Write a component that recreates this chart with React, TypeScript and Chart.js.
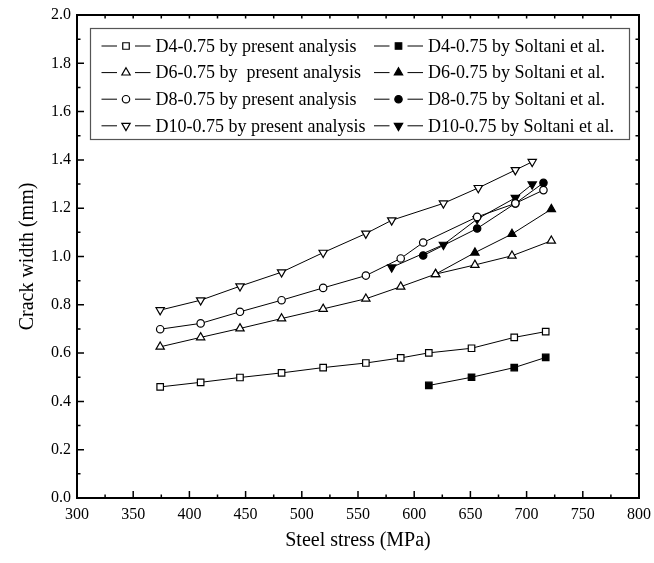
import React, { useEffect, useRef } from 'react';
import { Chart, registerables } from 'chart.js';
import { drawPoint } from 'chart.js/helpers';

Chart.register(...registerables);

// ---- data ----
const d4PresentX = [374, 410, 445, 482, 519, 557, 588, 613, 651, 689, 717];
const d4PresentY = [0.46, 0.479, 0.499, 0.518, 0.54, 0.559, 0.58, 0.601, 0.62, 0.665, 0.689];
const d4SoltaniX = [613, 651, 689, 717];
const d4SoltaniY = [0.466, 0.5, 0.54, 0.582];

const d6PresentX = [374, 410, 445, 482, 519, 557, 588, 619, 654, 687, 722];
const d6PresentY = [0.626, 0.665, 0.702, 0.743, 0.783, 0.825, 0.875, 0.927, 0.965, 1.003, 1.065];
const d6SoltaniX = [619, 654, 687, 722];
const d6SoltaniY = [0.927, 1.016, 1.093, 1.196];

const d8PresentX = [374, 410, 445, 482, 519, 557, 588, 608, 656, 690, 715];
const d8PresentY = [0.699, 0.723, 0.771, 0.819, 0.87, 0.921, 0.992, 1.058, 1.164, 1.22, 1.275];
const d8SoltaniX = [608, 656, 690, 715];
const d8SoltaniY = [1.004, 1.116, 1.22, 1.305];

const d10PresentX = [374, 410, 445, 482, 519, 557, 580, 626, 657, 690, 705];
const d10PresentY = [0.778, 0.819, 0.877, 0.935, 1.016, 1.095, 1.15, 1.22, 1.284, 1.358, 1.392];
const d10SoltaniX = [580, 626, 656, 690, 705];
const d10SoltaniY = [0.955, 1.049, 1.155, 1.243, 1.299];

const labels = [
  'D4-0.75 by present analysis',
  'D4-0.75 by Soltani et al.',
  'D6-0.75 by  present analysis',
  'D6-0.75 by Soltani et al.',
  'D8-0.75 by present analysis',
  'D8-0.75 by Soltani et al.',
  'D10-0.75 by present analysis',
  'D10-0.75 by Soltani et al.',
];

const xMin = 300;
const xMax = 800;
const xStep = 50;
const yMin = 0;
const yMax = 2.0;
const yStep = 0.2;

const FONT = '"Liberation Serif", "Times New Roman", serif';

const pts = (xs: number[], ys: number[]) => xs.map((x, i) => ({ x, y: ys[i] }));

type Mk = { style: string; rot: number; radius: number };
const square: Mk = { style: 'rect', rot: 0, radius: 4.6 };
const tri: Mk = { style: 'triangle', rot: 0, radius: 4.8 };
const circ: Mk = { style: 'circle', rot: 0, radius: 3.7 };
const dtri: Mk = { style: 'triangle', rot: 180, radius: 4.8 };

function ds(label: string, xs: number[], ys: number[], mk: Mk, filled: boolean) {
  return {
    label,
    data: pts(xs, ys),
    showLine: true,
    borderColor: '#000',
    borderWidth: 1,
    pointStyle: mk.style,
    pointRotation: mk.rot,
    pointRadius: mk.radius,
    pointHoverRadius: mk.radius,
    pointBackgroundColor: filled ? '#000' : '#fff',
    pointBorderColor: '#000',
    pointBorderWidth: 1.2,
    fill: false,
    tension: 0,
  };
}

const framePlugin = {
  id: 'frameAndLegend',
  afterDraw(chart: any) {
    const { ctx, chartArea } = chart;
    const xs = chart.scales.x;
    const ys = chart.scales.y;
    const { left, right, top, bottom } = chartArea;
    ctx.save();
    ctx.strokeStyle = '#000';
    ctx.lineWidth = 2;
    ctx.strokeRect(left, top, right - left, bottom - top);
    ctx.lineWidth = 1.5;
    ctx.beginPath();
    for (let v = xMin; v <= xMax + 1e-6; v += xStep / 2) {
      const px = xs.getPixelForValue(v);
      const major = Math.abs((v - xMin) % xStep) < 1e-6;
      const len = major ? 7 : 3.5;
      ctx.moveTo(px, bottom);
      ctx.lineTo(px, bottom - len);
      ctx.moveTo(px, top);
      ctx.lineTo(px, top + 3.5);
    }
    for (let i = 0; i <= Math.round((yMax - yMin) / (yStep / 2)); i++) {
      const v = yMin + i * (yStep / 2);
      const py = ys.getPixelForValue(v);
      const major = i % 2 === 0;
      const len = major ? 7 : 3.5;
      ctx.moveTo(left, py);
      ctx.lineTo(left + len, py);
      ctx.moveTo(right, py);
      ctx.lineTo(right - 3.5, py);
    }
    ctx.stroke();

    // legend box
    const bx = 90.5, by = 28.5, bw = 539, bh = 111;
    ctx.fillStyle = '#fff';
    ctx.fillRect(bx, by, bw, bh);
    ctx.strokeStyle = '#555';
    ctx.lineWidth = 1.2;
    ctx.strokeRect(bx, by, bw, bh);

    ctx.font = '18px ' + FONT;
    ctx.textBaseline = 'middle';
    ctx.textAlign = 'left';
    labels.forEach((lab, i) => {
      const dsIdx = chart.data.datasets.findIndex((d: any) => d.label === lab);
      const d = chart.data.datasets[dsIdx];
      const col = i % 2;
      const row = Math.floor(i / 2);
      const y = 46 + row * 26.6;
      const mx = col === 0 ? 126 : 398.5;
      ctx.strokeStyle = '#000';
      ctx.lineWidth = 1;
      ctx.beginPath();
      ctx.moveTo(mx - 24.5, y);
      ctx.lineTo(mx - 9, y);
      ctx.moveTo(mx + 9, y);
      ctx.lineTo(mx + 24.5, y);
      ctx.stroke();
      ctx.fillStyle = d.pointBackgroundColor;
      ctx.strokeStyle = '#000';
      ctx.lineWidth = 1.2;
      drawPoint(ctx, {
        pointStyle: d.pointStyle,
        rotation: d.pointRotation,
        radius: d.pointRadius,
        borderWidth: 1.2,
      } as any, mx, y);
      ctx.fillStyle = '#000';
      ctx.fillText(lab, mx + 29.5, y + 1);
    });
    ctx.restore();
  },
};

export default function App() {
  const ref = useRef<HTMLCanvasElement | null>(null);
  useEffect(() => {
    if (!ref.current) return;
    const chart = new Chart(ref.current, {
      type: 'scatter',
      data: {
        datasets: [
          ds(labels[0], d4PresentX, d4PresentY, square, false),
          ds(labels[2], d6PresentX, d6PresentY, tri, false),
          ds(labels[4], d8PresentX, d8PresentY, circ, false),
          ds(labels[6], d10PresentX, d10PresentY, dtri, false),
          ds(labels[1], d4SoltaniX, d4SoltaniY, square, true),
          ds(labels[3], d6SoltaniX, d6SoltaniY, tri, true),
          ds(labels[5], d8SoltaniX, d8SoltaniY, circ, true),
          ds(labels[7], d10SoltaniX, d10SoltaniY, dtri, true),
        ] as any,
      },
      options: {
        animation: false,
        responsive: false,
        maintainAspectRatio: false,
        events: [],
        layout: { padding: { top: 15, right: 15, left: 0, bottom: 0 } },
        plugins: {
          legend: { display: false },
          tooltip: { enabled: false },
        },
        scales: {
          x: {
            type: 'linear',
            min: xMin,
            max: xMax,
            grid: { display: false, drawTicks: false },
            border: { display: false },
            ticks: {
              stepSize: xStep,
              autoSkip: false,
              maxRotation: 0,
              padding: 7,
              color: '#000',
              font: { family: FONT, size: 16 },
              callback: (v: any) => String(v),
            },
            title: {
              display: true,
              text: 'Steel stress (MPa)',
              color: '#000',
              font: { family: FONT, size: 20 },
              padding: { top: 0, bottom: 10 },
            },
            afterFit: (s: any) => {
              s.height = 65;
              s.paddingLeft = 0;
              s.paddingRight = 0;
            },
          },
          y: {
            type: 'linear',
            min: yMin,
            max: yMax,
            grid: { display: false, drawTicks: false },
            border: { display: false },
            ticks: {
              stepSize: yStep,
              autoSkip: false,
              padding: 6,
              color: '#000',
              font: { family: FONT, size: 16 },
              callback: (v: any) => Number(v).toFixed(1),
            },
            title: {
              display: true,
              text: 'Crack width (mm)',
              color: '#000',
              font: { family: FONT, size: 20 },
              padding: { top: 16, bottom: 0 },
            },
            afterFit: (s: any) => {
              s.width = 77;
              s.paddingTop = 0;
              s.paddingBottom = 0;
            },
          },
        },
      } as any,
      plugins: [framePlugin],
    });
    return () => chart.destroy();
  }, []);
  return (
    <div style={{ position: 'absolute', left: 0, top: 0, width: 654, height: 563, background: '#fff' }}>
      <canvas ref={ref} width={654} height={563} style={{ display: 'block' }} />
    </div>
  );
}
